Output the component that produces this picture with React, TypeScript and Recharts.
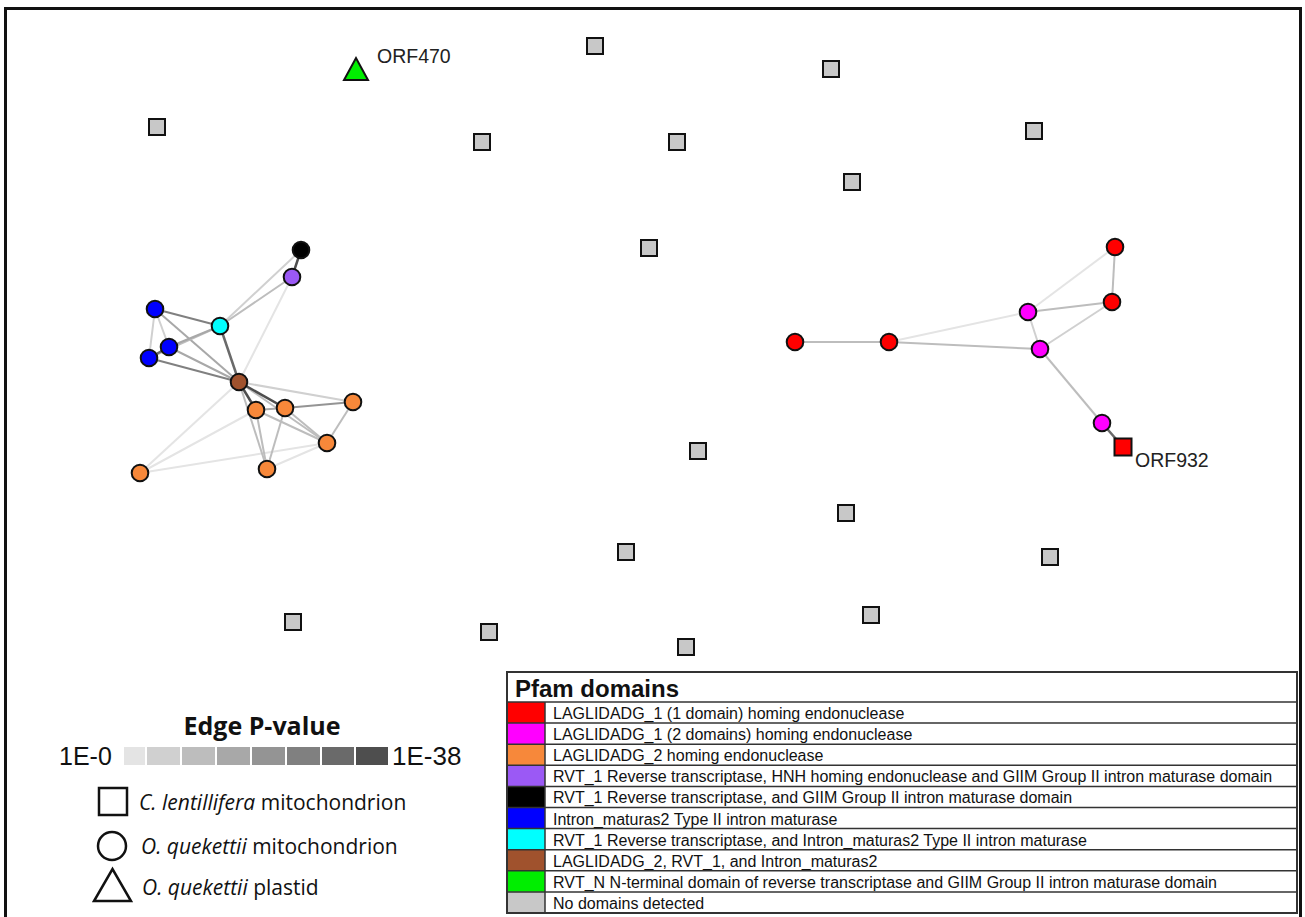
import React from 'react';
import { ScatterChart, Scatter, XAxis, YAxis } from 'recharts';

const W = 1305;
const H = 917;

// Pfam domain categories
const domainKeys = ['L1a', 'L1b', 'L2', 'RHG', 'RG', 'IM', 'RI', 'LRI', 'RN', 'ND'];
const domainLabels = [
  'LAGLIDADG_1 (1 domain) homing endonuclease',
  'LAGLIDADG_1 (2 domains) homing endonuclease',
  'LAGLIDADG_2 homing endonuclease',
  'RVT_1 Reverse transcriptase, HNH homing endonuclease and GIIM Group II intron maturase domain',
  'RVT_1 Reverse transcriptase, and GIIM Group II intron maturase domain',
  'Intron_maturas2 Type II intron maturase',
  'RVT_1 Reverse transcriptase, and Intron_maturas2 Type II intron maturase',
  'LAGLIDADG_2, RVT_1, and Intron_maturas2',
  'RVT_N N-terminal domain of reverse transcriptase and GIIM Group II intron maturase domain',
  'No domains detected',
];
const domainColors = ['#ff0000', '#ff00ff', '#f7883a', '#9b59f5', '#000000', '#0000ff', '#00ffff', '#a0522d', '#00ee00', '#c8c8c8'];

// Edge P-value shades (1E-0 -> 1E-38)
const pvalueShades = ['#e4e4e4', '#d0d0d0', '#bdbdbd', '#a8a8a8', '#949494', '#808080', '#6a6a6a', '#4e4e4e'];

type NodeT = { id: string; x: number; y: number; d: string; label?: string };

// C. lentillifera mitochondrion (squares)
const squareNodes: NodeT[] = [
  { id: 's1', x: 595, y: 46, d: 'ND' },
  { id: 's2', x: 831, y: 69, d: 'ND' },
  { id: 's3', x: 157, y: 127, d: 'ND' },
  { id: 's4', x: 482, y: 142, d: 'ND' },
  { id: 's5', x: 677, y: 142, d: 'ND' },
  { id: 's6', x: 1034, y: 131, d: 'ND' },
  { id: 's7', x: 852, y: 182, d: 'ND' },
  { id: 's8', x: 649, y: 248, d: 'ND' },
  { id: 's9', x: 698, y: 451, d: 'ND' },
  { id: 's10', x: 846, y: 513, d: 'ND' },
  { id: 's11', x: 626, y: 552, d: 'ND' },
  { id: 's12', x: 1050, y: 557, d: 'ND' },
  { id: 's13', x: 293, y: 622, d: 'ND' },
  { id: 's14', x: 489, y: 632, d: 'ND' },
  { id: 's15', x: 871, y: 615, d: 'ND' },
  { id: 's16', x: 686, y: 647, d: 'ND' },
  { id: 'orf932', x: 1123, y: 447, d: 'L1a', label: 'ORF932' },
];

// O. quekettii mitochondrion (circles)
const circleNodes: NodeT[] = [
  { id: 'k1', x: 301, y: 250, d: 'RG' },
  { id: 'p1', x: 292, y: 277, d: 'RHG' },
  { id: 'b1', x: 155, y: 309, d: 'IM' },
  { id: 'c1', x: 220, y: 326, d: 'RI' },
  { id: 'b2', x: 169, y: 347, d: 'IM' },
  { id: 'b3', x: 149, y: 358, d: 'IM' },
  { id: 'br', x: 239, y: 382, d: 'LRI' },
  { id: 'o1', x: 256, y: 410, d: 'L2' },
  { id: 'o2', x: 285, y: 408, d: 'L2' },
  { id: 'o3', x: 353, y: 402, d: 'L2' },
  { id: 'o4', x: 327, y: 443, d: 'L2' },
  { id: 'o5', x: 140, y: 473, d: 'L2' },
  { id: 'o6', x: 267, y: 469, d: 'L2' },
  { id: 'r1', x: 795, y: 342, d: 'L1a' },
  { id: 'r2', x: 889, y: 342, d: 'L1a' },
  { id: 'r3', x: 1115, y: 247, d: 'L1a' },
  { id: 'r4', x: 1112, y: 302, d: 'L1a' },
  { id: 'm1', x: 1028, y: 312, d: 'L1b' },
  { id: 'm2', x: 1040, y: 349, d: 'L1b' },
  { id: 'm3', x: 1102, y: 423, d: 'L1b' },
];

// O. quekettii plastid (triangles)
const triangleNodes: NodeT[] = [{ id: 'orf470', x: 356, y: 70, d: 'RN', label: 'ORF470' }];

// edges: [source, target, p-value shade level 0..7]
const edges: [string, string, number][] = [
  ['br', 'o5', 0], ['o5', 'o1', 0], ['o5', 'o4', 0], ['o6', 'o4', 0], ['p1', 'br', 0],
  ['br', 'o3', 1], ['br', 'o4', 2], ['br', 'o6', 2], ['o1', 'o4', 2], ['o2', 'o4', 2],
  ['o1', 'o6', 2], ['o2', 'o6', 2], ['o3', 'o4', 2], ['k1', 'c1', 1], ['p1', 'c1', 2],
  ['b1', 'b3', 1], ['b1', 'b2', 1], ['b1', 'br', 3], ['c1', 'b3', 2], ['c1', 'b2', 3],
  ['b2', 'br', 3], ['b3', 'br', 5], ['b1', 'c1', 5], ['o1', 'o2', 3], ['o2', 'o3', 4],
  ['c1', 'br', 6], ['b2', 'b3', 6], ['br', 'o1', 7], ['br', 'o2', 7], ['k1', 'p1', 7],
  ['r2', 'm1', 0], ['m1', 'r3', 0], ['m1', 'm2', 1], ['m2', 'r4', 1], ['r1', 'r2', 2],
  ['r2', 'm2', 2], ['m1', 'r4', 2], ['r3', 'r4', 2], ['m2', 'm3', 2], ['m3', 'orf932', 6],
];

const labelOffsets: Record<string, [number, number]> = { orf470: [21, -7], orf932: [12, 20] };

const allNodes = [...squareNodes, ...circleNodes, ...triangleNodes];
const nodeById: Record<string, NodeT> = {};
allNodes.forEach((n) => (nodeById[n.id] = n));
const colorOf = (d: string) => domainColors[domainKeys.indexOf(d)];

const EmptyShape = () => <g />;

const NodeLabel = ({ cx, cy, n }: { cx: number; cy: number; n: NodeT }) => {
  if (!n.label) return null;
  const [dx, dy] = labelOffsets[n.id] || [12, 0];
  return (
    <text x={cx + dx} y={cy + dy} fontFamily="Liberation Sans, Arial, sans-serif" fontSize={19.5} fill="#222">
      {n.label}
    </text>
  );
};

const SquareShape = (props: any) => {
  const { cx, cy, payload } = props;
  const s = payload.label ? 17 : 16;
  return (
    <g>
      <rect x={cx - s / 2} y={cy - s / 2} width={s} height={s} fill={colorOf(payload.d)} stroke="#111" strokeWidth={2} />
      <NodeLabel cx={cx} cy={cy} n={payload} />
    </g>
  );
};

const CircleShape = (props: any) => {
  const { cx, cy, payload } = props;
  return <circle cx={cx} cy={cy} r={8.3} fill={colorOf(payload.d)} stroke="#111" strokeWidth={2} />;
};

const TriangleShape = (props: any) => {
  const { cx, cy, payload } = props;
  return (
    <g>
      <polygon
        points={`${cx - 12},${cy + 10} ${cx + 12},${cy + 10} ${cx},${cy - 12}`}
        fill={colorOf(payload.d)}
        stroke="#111"
        strokeWidth={2}
        strokeLinejoin="miter"
      />
      <NodeLabel cx={cx} cy={cy} n={payload} />
    </g>
  );
};

const Overlay = () => {
  const tX = 507, tY = 672, tW = 790, hH = 30, rH = 21.1, cW = 38;
  const barX = [124, 147, 182, 217, 252, 287, 322, 356];
  const barW = [21, 33, 33, 33, 33, 33, 32, 32];
  const arial = 'Liberation Sans, Arial, sans-serif';
  const sans = 'Open Sans, sans-serif';
  return (
    <svg width={W} height={H} style={{ position: 'absolute', left: 0, top: 0, pointerEvents: 'none' }}>
      {/* frame */}
      <rect x={5.5} y={8.5} width={1295} height={1000} fill="none" stroke="#111" strokeWidth={3} />
      {/* Edge P-value legend */}
      <text x={262} y={735} textAnchor="middle" fontFamily={sans} fontWeight={700} fontSize={25} fill="#111">
        Edge P-value
      </text>
      {pvalueShades.map((c, i) => (
        <rect key={c} x={barX[i]} y={747} width={barW[i]} height={18} fill={c} />
      ))}
      <text x={59} y={765} fontFamily={arial} fontSize={25} fill="#111">1E-0</text>
      <text x={392} y={765} fontFamily={arial} fontSize={26} fill="#111">1E-38</text>
      {/* shape legend */}
      <rect x={99} y={788} width={28} height={27} fill="none" stroke="#111" strokeWidth={2.5} />
      <text x={139} y={810} fontFamily={sans} fontSize={21} fill="#111">
        <tspan fontStyle="italic">C. lentillifera</tspan> mitochondrion
      </text>
      <circle cx={112} cy={846} r={14} fill="none" stroke="#111" strokeWidth={2.5} />
      <text x={141} y={854} fontFamily={sans} fontSize={21} fill="#111">
        <tspan fontStyle="italic">O. quekettii</tspan> mitochondrion
      </text>
      <polygon points="94,901 131,901 112.5,869" fill="none" stroke="#111" strokeWidth={2.5} />
      <text x={142} y={895} fontFamily={sans} fontSize={21} fill="#111">
        <tspan fontStyle="italic">O. quekettii</tspan> plastid
      </text>
      {/* Pfam domains table */}
      <rect x={tX} y={tY} width={tW} height={hH + rH * 10} fill="#fff" stroke="#333" strokeWidth={2} />
      <text x={515} y={697} fontFamily={arial} fontWeight={700} fontSize={24} fill="#111">Pfam domains</text>
      {domainLabels.map((lab, i) => {
        const y = tY + hH + rH * i;
        return (
          <g key={lab}>
            <rect x={tX} y={y} width={cW} height={rH} fill={domainColors[i]} />
            <line x1={tX} x2={tX + tW} y1={y} y2={y} stroke="#333" strokeWidth={1.5} />
            <text x={553} y={y + 17} fontFamily={arial} fontSize={16} fill="#111">{lab}</text>
          </g>
        );
      })}
      <line x1={tX + cW} x2={tX + cW} y1={tY + hH} y2={tY + hH + rH * 10} stroke="#333" strokeWidth={1.5} />
      <rect x={tX} y={tY} width={tW} height={hH + rH * 10} fill="none" stroke="#333" strokeWidth={2} />
    </svg>
  );
};

export default function App() {
  return (
    <div style={{ position: 'absolute', left: 0, top: 0, width: W, height: H, background: '#fff', overflow: 'hidden' }}>
      <ScatterChart width={W} height={H} margin={{ top: 0, right: 0, bottom: 0, left: 0 }}>
        <XAxis type="number" dataKey="x" domain={[0, W]} hide allowDataOverflow />
        <YAxis type="number" dataKey="y" domain={[0, H]} reversed hide allowDataOverflow />
        {edges.map(([a, b, lvl], i) => (
          <Scatter
            key={`e${i}`}
            data={[nodeById[a], nodeById[b]]}
            line={{ stroke: pvalueShades[lvl], strokeWidth: lvl >= 6 ? 2.5 : 2 }}
            shape={EmptyShape}
            isAnimationActive={false}
          />
        ))}
        <Scatter data={circleNodes} shape={CircleShape} isAnimationActive={false} />
        <Scatter data={squareNodes} shape={SquareShape} isAnimationActive={false} />
        <Scatter data={triangleNodes} shape={TriangleShape} isAnimationActive={false} />
      </ScatterChart>
      <Overlay />
    </div>
  );
}
